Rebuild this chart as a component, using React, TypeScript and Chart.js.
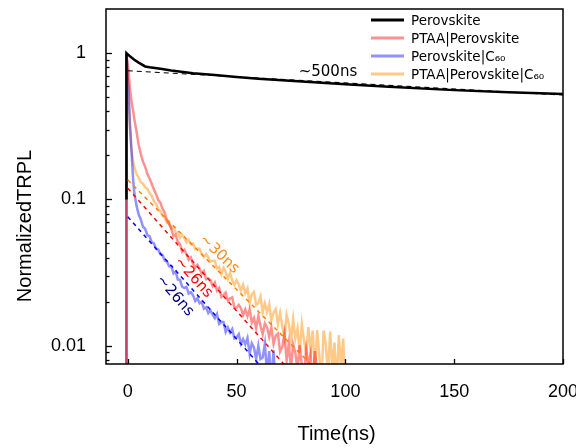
import React, { useEffect, useRef } from "react";
import { Chart, registerables } from "chart.js";

Chart.register(...registerables);

// Shared time grid (ns) for the three noisy TRPL traces
const TIME = [
  -0.6, -0.6, 0.5, 1, 1.5, 2, 2.5, 3, 4, 5, 6, 7, 8, 9, 10, 11, 12, 13, 14, 15, 16, 17, 18, 19, 20,
  21, 22, 23, 24, 25, 26, 27, 28, 29, 30, 31, 32, 33, 34, 35, 36, 37, 38, 39, 40, 41, 42, 43, 44, 45,
  46, 47, 48, 49, 50, 51, 52, 53, 54, 55, 56, 57, 58, 59, 60, 61, 62, 63, 64, 65, 66, 67, 68, 69, 70,
  71, 72, 73, 74, 75, 76, 77, 78, 79, 80, 81, 82, 83, 84, 85, 86, 87, 88, 89, 90, 91, 92, 93, 94, 95,
  96, 97, 98, 99, 100,
];

// Perovskite (black)
const PEROVSKITE_T = [-0.6, -0.6, 1, 3, 5, 8, 10, 15, 20, 30, 40, 50, 60, 80, 100, 120, 150, 175, 200];
const PEROVSKITE_V = [0.1, 1, 0.95, 0.9, 0.86, 0.81, 0.8, 0.78, 0.76, 0.728, 0.707, 0.687, 0.668, 0.64, 0.612, 0.588, 0.558, 0.54, 0.525];

// PTAA|Perovskite (red)
const PTAA_V = [
  0.001, 1, 0.72, 0.57, 0.5, 0.44, 0.4,
  0.355, 0.292, 0.236, 0.204, 0.181, 0.167, 0.149, 0.139, 0.128, 0.117, 0.109, 0.099, 0.095, 0.086, 0.081, 0.072, 0.068,
  0.0634, 0.0559, 0.0575, 0.0513, 0.0494, 0.0439, 0.0452, 0.0422, 0.0387, 0.04,
  0.0363, 0.0342, 0.0357, 0.0337, 0.0311, 0.0324, 0.0285, 0.0288, 0.0282, 0.0256,
  0.027, 0.0238, 0.0248, 0.0216, 0.0222, 0.0231, 0.0203, 0.021, 0.0214, 0.0182,
  0.0182, 0.019, 0.018, 0.0162, 0.0177, 0.0159, 0.0177, 0.0144, 0.0155, 0.0132,
  0.0159, 0.0137, 0.012, 0.0142, 0.0134, 0.0115, 0.0133, 0.0103, 0.0117, 0.0121,
  0.0091, 0.0098, 0.0121, 0.0079, 0.0103, 0.007, 0.0102, 0.009, 0.0067, 0.0101,
  0.0073, 0.0063, 0.0094, 0.0074, 0.0088, 0.0054, 0.0092, 0.0067, 0.0051,
];

// Perovskite|C60 (blue)
const C60_V = [
  0.001, 1, 0.5, 0.33, 0.25, 0.18, 0.135,
  0.111, 0.091, 0.079, 0.073, 0.065, 0.063, 0.057, 0.056, 0.051, 0.05, 0.046, 0.0455, 0.0422, 0.0415, 0.0382, 0.0376, 0.0349,
  0.035, 0.0312, 0.0321, 0.0283, 0.0282, 0.0253, 0.0248, 0.0252, 0.0227, 0.0232,
  0.0221, 0.0202, 0.0211, 0.0195, 0.02, 0.0179, 0.0183, 0.0167, 0.0174, 0.0163,
  0.0154, 0.0165, 0.0141, 0.0145, 0.0145, 0.0124, 0.0133, 0.0123, 0.013, 0.0112,
  0.0114, 0.012, 0.0103, 0.0111, 0.0102, 0.0113, 0.0088, 0.0104, 0.0097, 0.0081,
  0.01, 0.0081, 0.0083, 0.0103, 0.0064, 0.0092, 0.0056, 0.0093, 0.005,
];

// PTAA|Perovskite|C60 (orange)
const BOTH_V = [
  0.001, 1, 0.45, 0.3, 0.23, 0.2, 0.18,
  0.166, 0.149, 0.141, 0.131, 0.128, 0.121, 0.118, 0.111, 0.106, 0.097, 0.093, 0.086, 0.083, 0.077, 0.075, 0.069, 0.0685,
  0.0634, 0.0648, 0.0595, 0.0594, 0.0547, 0.0571, 0.0544, 0.0508, 0.053, 0.0494,
  0.05, 0.0458, 0.0462, 0.046, 0.0424, 0.0403, 0.0423, 0.0401, 0.0375, 0.0381,
  0.038, 0.0338, 0.0345, 0.0307, 0.034, 0.0319, 0.0287, 0.0315, 0.028, 0.026,
  0.0281, 0.0263, 0.0238, 0.0261, 0.0229, 0.0247, 0.0195, 0.0224, 0.0233, 0.019,
  0.0195, 0.0217, 0.0169, 0.0195, 0.017, 0.0192, 0.0149, 0.0168, 0.0178, 0.0141,
  0.0167, 0.0136, 0.0113, 0.0162, 0.0141, 0.0109, 0.0152, 0.0112, 0.0131, 0.009,
  0.014, 0.0108, 0.0088, 0.0134, 0.0093, 0.0127, 0.0065, 0.0128, 0.0087, 0.0056,
  0.0127, 0.0102, 0.0062, 0.0125, 0.0068, 0.0105, 0.0052, 0.0118, 0.007, 0.0112,
  0.0043,
];

// Single-exponential fit lines (end points)
const FIT_BLACK_T = [0, 200];
const FIT_BLACK_V = [0.757, 0.517];
const FIT_RED_T = [0, 75];
const FIT_RED_V = [0.119, 0.0066];
const FIT_ORANGE_T = [0, 86];
const FIT_ORANGE_V = [0.136, 0.007];
const FIT_BLUE_T = [0, 62];
const FIT_BLUE_V = [0.076, 0.007];

const X_TICKS = [0, 50, 100, 150, 200];
const Y_MAJOR = [0.01, 0.1, 1];
const Y_MINOR = [0.008, 0.009, 0.02, 0.03, 0.04, 0.05, 0.06, 0.07, 0.08, 0.09, 0.2, 0.3, 0.4, 0.5, 0.6, 0.7, 0.8, 0.9];

const SERIES_LABELS = ["Perovskite", "PTAA|Perovskite", "Perovskite|C₆₀", "PTAA|Perovskite|C₆₀"];
const SERIES_COLORS = ["#000000", "rgba(255,0,0,0.43)", "rgba(0,0,255,0.43)", "rgba(255,140,0,0.47)"];

const ANNOTATION_TEXT = ["~500ns", "~30ns", "~26ns", "~26ns"];
const ANNOTATION_X = [92, 42, 30.2, 21.7];
const ANNOTATION_Y = [0.745, 0.0422, 0.0292, 0.0219];
const ANNOTATION_ANGLE = [0, 44, 48, 49];
const ANNOTATION_COLOR = ["#000000", "#ff8c1a", "#ff0000", "#000080"];

const X_TITLE = "Time(ns)";
const Y_TITLE = "NormalizedTRPL";

const SANS = '"Liberation Sans", Arial, sans-serif';
const DEJAVU = '"DejaVu Sans", sans-serif';

const pts = (ts: number[], vs: number[]) => vs.map((v, i) => ({ x: ts[i], y: v }));

const zeroPad = (s: any) => {
  s.paddingLeft = 0;
  s.paddingRight = 0;
  s.paddingTop = 0;
  s.paddingBottom = 0;
};

const decorPlugin = {
  id: "decor",
  afterDraw(chart: any) {
    const { ctx, chartArea, scales } = chart;
    const { left, right, top, bottom } = chartArea;
    const xs = scales.x;
    const ys = scales.y;
    ctx.save();

    // ticks (inward)
    ctx.strokeStyle = "#000";
    ctx.lineWidth = 1.3;
    ys.ticks.forEach((t: any) => {
      const py = Math.round(ys.getPixelForValue(t.value)) + 0.5;
      const len = Y_MAJOR.includes(t.value) ? 6 : 3.5;
      ctx.beginPath();
      ctx.moveTo(left, py);
      ctx.lineTo(left + len, py);
      ctx.stroke();
    });
    xs.ticks.forEach((t: any) => {
      const px = Math.round(xs.getPixelForValue(t.value)) + 0.5;
      ctx.beginPath();
      ctx.moveTo(px, bottom);
      ctx.lineTo(px, bottom - 5);
      ctx.stroke();
    });

    // frame
    ctx.lineWidth = 1.5;
    ctx.strokeRect(left, top, right - left, bottom - top);

    // axis titles
    ctx.fillStyle = "#000";
    ctx.font = `20px ${SANS}`;
    ctx.textAlign = "center";
    ctx.textBaseline = "alphabetic";
    ctx.fillText(X_TITLE, (left + right) / 2 + 2, 440);
    ctx.save();
    ctx.translate(31, 226);
    ctx.rotate(-Math.PI / 2);
    ctx.fillText(Y_TITLE, 0, 0);
    ctx.restore();

    // annotations
    ctx.font = `15px ${DEJAVU}`;
    ctx.textBaseline = "middle";
    ANNOTATION_TEXT.forEach((txt, i) => {
      const px = xs.getPixelForValue(ANNOTATION_X[i]);
      const py = ys.getPixelForValue(ANNOTATION_Y[i]);
      ctx.save();
      ctx.translate(px, py);
      ctx.rotate((ANNOTATION_ANGLE[i] * Math.PI) / 180);
      ctx.fillStyle = ANNOTATION_COLOR[i];
      ctx.fillText(txt, 0, 0);
      ctx.restore();
    });

    // legend
    ctx.font = `13.5px ${DEJAVU}`;
    ctx.textAlign = "left";
    ctx.textBaseline = "middle";
    SERIES_LABELS.forEach((lab, i) => {
      const y = top + 11 + i * 18;
      ctx.strokeStyle = SERIES_COLORS[i];
      ctx.lineWidth = 3;
      ctx.beginPath();
      ctx.moveTo(right - 192, y);
      ctx.lineTo(right - 159, y);
      ctx.stroke();
      ctx.fillStyle = "#000";
      ctx.fillText(lab, right - 152, y + 1);
    });

    ctx.restore();
  },
};

export default function App() {
  const ref = useRef<HTMLCanvasElement | null>(null);

  useEffect(() => {
    if (!ref.current) return;
    const dashed = (data: any, color: string, width: number, dash: number[]) => ({
      data,
      borderColor: color,
      borderWidth: width,
      borderDash: dash,
      pointRadius: 0,
      fill: false,
    });
    const solid = (label: string, data: any, color: string, width: number) => ({
      label,
      data,
      borderColor: color,
      borderWidth: width,
      pointRadius: 0,
      fill: false,
    });
    const chart = new Chart(ref.current, {
      type: "line",
      data: {
        datasets: [
          dashed(pts(FIT_BLACK_T, FIT_BLACK_V), "#000000", 1.2, [5, 4]),
          dashed(pts(FIT_RED_T, FIT_RED_V), "#ff0000", 1.5, [4, 4]),
          dashed(pts(FIT_ORANGE_T, FIT_ORANGE_V), "#ff8000", 1.5, [4, 4]),
          dashed(pts(FIT_BLUE_T, FIT_BLUE_V), "#0000ff", 1.5, [4, 4]),
          solid(SERIES_LABELS[0], pts(PEROVSKITE_T, PEROVSKITE_V), SERIES_COLORS[0], 2.5),
          solid(SERIES_LABELS[1], pts(TIME, PTAA_V), SERIES_COLORS[1], 2.5),
          solid(SERIES_LABELS[2], pts(TIME, C60_V), SERIES_COLORS[2], 2.5),
          solid(SERIES_LABELS[3], pts(TIME, BOTH_V), SERIES_COLORS[3], 2.5),
        ] as any,
      },
      options: {
        animation: false,
        responsive: false,
        devicePixelRatio: 1,
        elements: { line: { tension: 0 }, point: { radius: 0 } },
        layout: { padding: { left: 0, right: 13, top: 9, bottom: 0 } },
        plugins: { legend: { display: false }, tooltip: { enabled: false } },
        scales: {
          x: {
            type: "linear",
            min: -10,
            max: 200,
            grid: { display: false, drawTicks: false },
            border: { display: false },
            afterBuildTicks: (s: any) => {
              s.ticks = X_TICKS.map((v) => ({ value: v }));
            },
            afterFit: (s: any) => {
              s.height = 84;
              zeroPad(s);
            },
            ticks: {
              autoSkip: false,
              maxRotation: 0,
              padding: 17,
              color: "#000",
              font: { family: SANS, size: 18 },
              callback: (v: any) => String(v),
            },
          },
          y: {
            type: "logarithmic",
            min: 0.0075,
            max: 2,
            grid: { display: false, drawTicks: false },
            border: { display: false },
            afterBuildTicks: (s: any) => {
              s.ticks = [...Y_MINOR, ...Y_MAJOR]
                .sort((a, b) => a - b)
                .map((v) => ({ value: v, major: Y_MAJOR.includes(v) }));
            },
            afterFit: (s: any) => {
              s.width = 106;
              zeroPad(s);
            },
            ticks: {
              autoSkip: false,
              padding: 20,
              color: "#000",
              font: { family: SANS, size: 18 },
              callback: (v: any) => (Y_MAJOR.includes(v) ? String(v) : ""),
            },
          },
        },
      } as any,
      plugins: [decorPlugin],
    });
    return () => chart.destroy();
  }, []);

  return (
    <div style={{ position: "absolute", left: 0, top: 0, width: 576, height: 448, background: "#fff" }}>
      <canvas ref={ref} width={576} height={448} style={{ display: "block" }} />
    </div>
  );
}
